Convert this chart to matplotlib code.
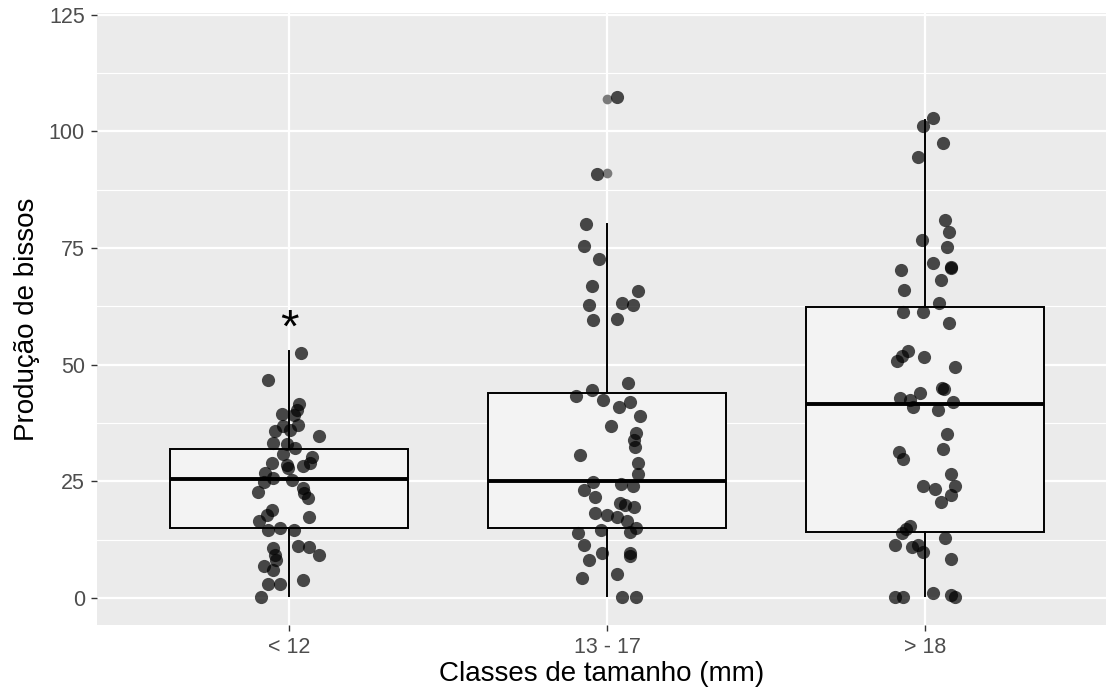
import numpy as np
import matplotlib
matplotlib.use("Agg")
import matplotlib.pyplot as plt

plt.rcParams['font.family'] = ['Liberation Sans', 'DejaVu Sans']

# categorias
classes = ['< 12', '13 - 17', '> 18']

# estatisticas das caixas
q1 = [14.9, 14.9, 14.2]
medianas = [25.4, 25.1, 41.6]
q3 = [31.9, 43.9, 62.3]
whis_lo = [0.4, 0.4, 0.5]
whis_hi = [53.0, 80.1, 102.5]
outliers = [[], [107.0, 91.0], []]

# pontos (jitter horizontal, valor)
jit1 = [0.038, -0.065, 0.032, 0.024, -0.023, 0.017, 0.029, -0.018, -0.044, 0.094,
        0.003, -0.049, -0.007, 0.019, -0.018, 0.073, 0.066, 0.045, -0.054, -0.007,
        -0.002, -0.075, -0.049, 0.008, -0.079, 0.045, 0.048, -0.097, 0.059, 0.064,
        -0.053, -0.070, -0.094, -0.065, -0.028, 0.014, 0.027, 0.064, 0.094, -0.049,
        -0.044, -0.041, -0.078, -0.051, -0.065, -0.028, 0.045, -0.089]
val1 = [52.5, 46.7, 41.5, 40.3, 39.4, 39.2, 37.1, 36.9, 35.7, 34.8,
        36.0, 33.2, 33.0, 32.1, 30.8, 30.3, 28.9, 28.2, 29.0, 28.5,
        27.8, 26.7, 25.7, 25.3, 24.9, 23.5, 22.6, 22.8, 21.4, 17.4,
        18.9, 17.8, 16.5, 14.6, 14.9, 14.6, 11.1, 10.9, 9.2, 10.7,
        9.2, 8.1, 6.9, 6.0, 3.0, 3.0, 3.9, 0.2]

jit2 = [0.031, -0.032, -0.067, -0.072, -0.024, -0.048, 0.097, -0.056, 0.046, 0.080,
        -0.043, 0.031, 0.067, -0.048, -0.097, -0.012, 0.072, 0.036, 0.104, 0.013,
        0.090, 0.085, 0.088, -0.085, 0.097, 0.097, -0.043, 0.043, 0.083, -0.072,
        -0.038, 0.041, 0.057, 0.085, -0.038, -0.001, 0.032, 0.062, 0.091, 0.072,
        -0.020, -0.090, -0.072, -0.017, 0.072, 0.072, -0.056, 0.031, -0.078, 0.048,
        0.090]
val2 = [107.4, 90.8, 80.1, 75.5, 72.7, 66.9, 65.7, 62.8, 63.2, 62.8,
        59.6, 59.9, 46.0, 44.6, 43.2, 42.5, 42.1, 41.0, 38.9, 36.9,
        35.3, 33.9, 32.3, 30.7, 29.0, 26.5, 24.9, 24.4, 24.0, 23.2,
        21.7, 20.3, 19.9, 19.6, 18.2, 17.8, 17.4, 16.4, 14.9, 14.2,
        14.6, 13.9, 11.4, 9.7, 9.6, 9.0, 8.1, 5.1, 4.2, 0.2,
        0.2]

jit3 = [0.026, -0.005, 0.056, -0.021, 0.063, 0.076, -0.010, 0.070, 0.026, 0.082,
        0.082, -0.075, 0.050, -0.065, 0.045, -0.070, -0.005, 0.075, -0.053, -0.073,
        -0.089, -0.003, 0.094, 0.053, 0.060, -0.016, -0.079, -0.047, 0.089, -0.039,
        0.040, 0.070, 0.056, -0.082, -0.068, 0.081, -0.008, 0.094, 0.031, 0.081,
        0.050, -0.047, -0.060, -0.073, 0.063, -0.094, -0.042, -0.021, -0.007, 0.081,
        -0.094, -0.068, 0.026, 0.081, 0.094]
val3 = [102.9, 101.2, 97.5, 94.5, 81.0, 78.4, 76.8, 75.2, 71.9, 70.8,
        71.0, 70.2, 68.2, 66.0, 63.3, 61.2, 61.2, 59.0, 53.0, 51.9,
        50.9, 51.6, 49.6, 45.0, 44.7, 43.9, 42.8, 42.5, 42.1, 40.9,
        40.2, 35.2, 31.9, 31.2, 29.7, 26.6, 24.0, 23.9, 23.3, 22.1,
        20.6, 15.5, 14.8, 13.9, 12.8, 11.4, 11.0, 11.4, 9.9, 8.3,
        0.2, 0.2, 1.0, 0.6, 0.2]

jitters = [jit1, jit2, jit3]
valores = [val1, val2, val3]

fig = plt.figure(figsize=(11.06, 7), dpi=100)
ax = fig.add_axes([97 / 1106, 75 / 700, 1009 / 1106, 612 / 700])
ax.set_facecolor('#EBEBEB')
for s in ax.spines.values():
    s.set_visible(False)

stats = []
for i in range(3):
    stats.append(dict(med=medianas[i], q1=q1[i], q3=q3[i], whislo=whis_lo[i],
                      whishi=whis_hi[i], fliers=outliers[i]))

ax.bxp(stats, positions=[1, 2, 3], widths=0.75, patch_artist=True, showcaps=False,
       manage_ticks=False,
       boxprops=dict(facecolor='#F3F3F3', edgecolor='black', lw=1.4),
       medianprops=dict(color='black', lw=2.8),
       whiskerprops=dict(color='black', lw=1.4),
       flierprops=dict(marker='o', markersize=7, markerfacecolor='#7a7a7a',
                       markeredgecolor='none'),
       zorder=2)

for i in range(3):
    x = np.array(jitters[i]) + (i + 1)
    ax.scatter(x, valores[i], s=90, color='black', alpha=0.7, linewidths=0, zorder=3)

ax.text(1, 55.0, '*', fontsize=34, ha='center', va='baseline', color='black', zorder=4)

# grade
ax.set_yticks([0, 25, 50, 75, 100, 125])
ax.set_yticks([12.5, 37.5, 62.5, 87.5, 112.5], minor=True)
ax.set_xticks([1, 2, 3])
ax.set_xticklabels(classes)
ax.grid(which='major', color='white', lw=1.6)
ax.grid(which='minor', axis='y', color='white', lw=0.8)
ax.set_axisbelow(True)

ax.set_xlim(0.396, 3.569)
ax.set_ylim(-5.8, 125.4)

ax.tick_params(axis='both', which='major', length=4.3, width=1.0, color='#333333',
               labelcolor='#4D4D4D', labelsize=15.5, pad=4.5)
ax.tick_params(which='minor', length=0)
ax.set_xlabel('Classes de tamanho (mm)', fontsize=20, labelpad=2)
ax.set_ylabel('Produção de bissos', fontsize=20, labelpad=6)

fig.savefig('out.png', dpi=100)
